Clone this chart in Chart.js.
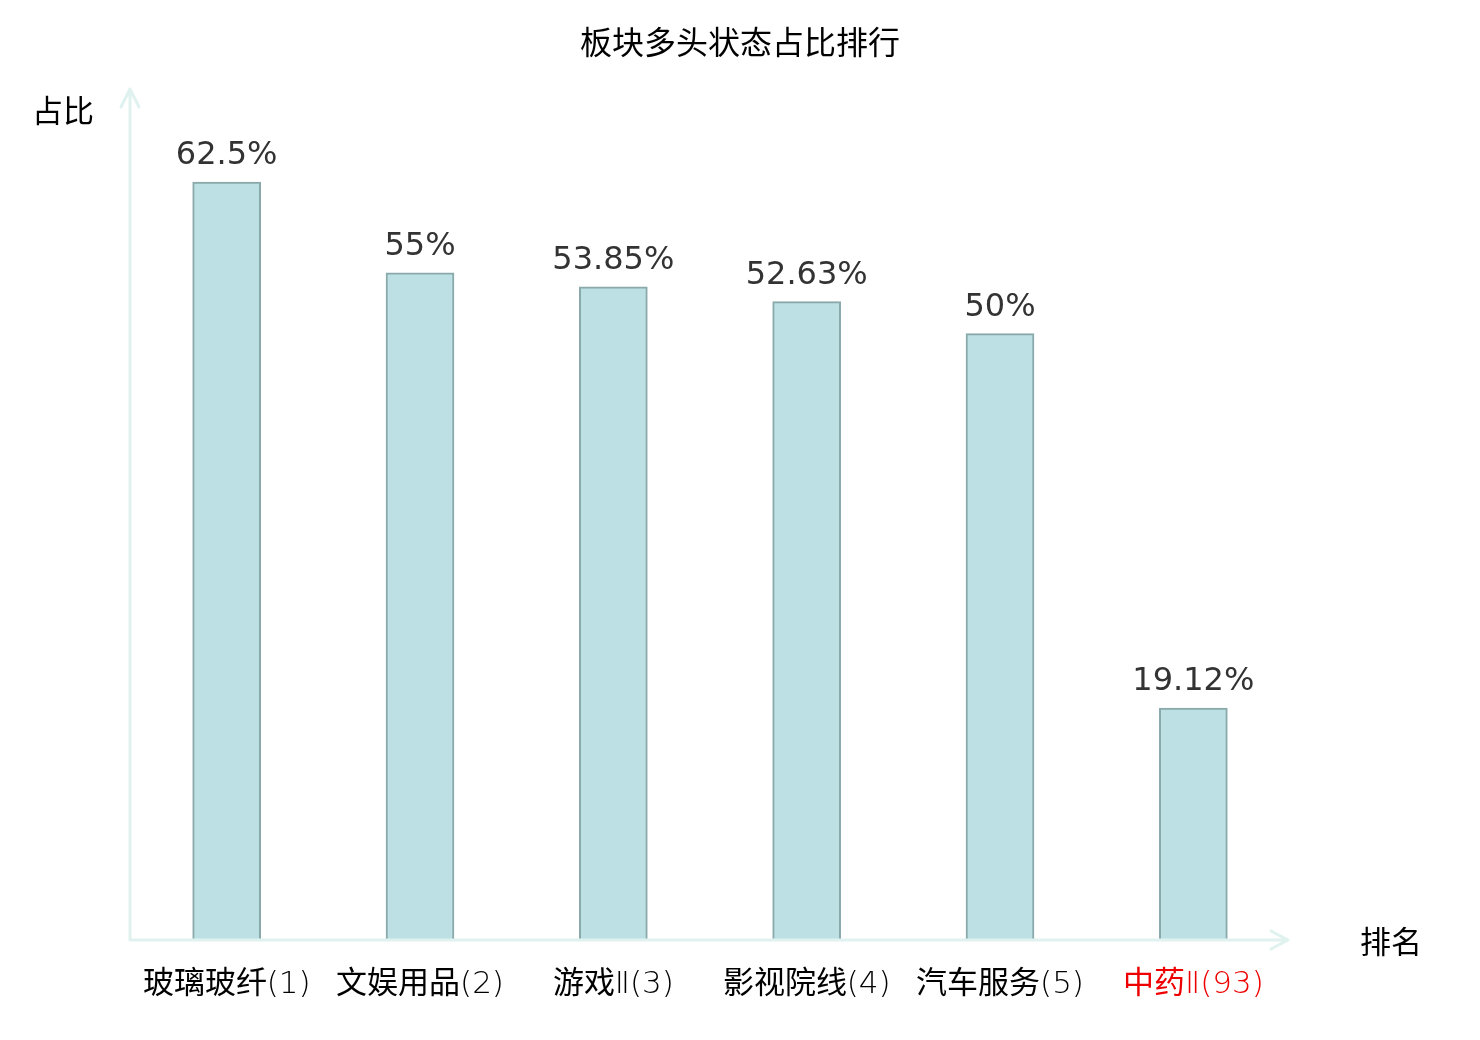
<!DOCTYPE html>
<html lang="zh">
<head>
  <meta charset="UTF-8">
  <title>板块多头状态占比排行</title>
  <script src="https://cdn.jsdelivr.net/npm/chart.js"></script>
  <style>
    html, body { margin: 0; padding: 0; background: #fff; }
    #wrap { width: 1480px; height: 1040px; }
    /* regular-weight CJK glyphs registered under a light weight, so the
       tick labels get thin latin digits but normal Chinese characters */
    @font-face {
      font-family: 'TickCJK';
      src: local('Noto Sans CJK SC'), local('Noto Sans CJK SC Regular'), local('NotoSansCJKsc-Regular');
      font-weight: 200;
    }
  </style>
</head>
<body>
  <div id="wrap"><canvas id="rank"></canvas></div>
  <script>
    const categories = ['玻璃玻纤(1)', '文娱用品(2)', '游戏Ⅱ(3)', '影视院线(4)', '汽车服务(5)', '中药Ⅱ(93)'];
    const ratios = [62.5, 55, 53.85, 52.63, 50, 19.12];
    const labelColors = ['#000', '#000', '#000', '#000', '#000', '#e00'];

    const cjk = '"Noto Sans CJK SC", "DejaVu Sans", sans-serif';
    const tickFont = '"DejaVu Sans", TickCJK, "Noto Sans CJK SC", sans-serif';
    const axisColor = '#dff2ef';

    // title, axis lines with arrow heads, axis names and value labels
    const decorations = {
      id: 'decorations',
      afterDatasetsDraw(chart) {
        const ctx = chart.ctx;
        const a = chart.chartArea;
        ctx.save();
        ctx.strokeStyle = axisColor;
        ctx.lineWidth = 3;
        ctx.lineCap = 'round';
        ctx.lineJoin = 'round';
        // y axis
        ctx.beginPath();
        ctx.moveTo(a.left, a.bottom);
        ctx.lineTo(a.left, a.top - 2);
        ctx.moveTo(a.left - 9, a.top + 16);
        ctx.lineTo(a.left, a.top - 2);
        ctx.lineTo(a.left + 9, a.top + 16);
        // x axis
        ctx.moveTo(a.left, a.bottom);
        ctx.lineTo(a.right - 2, a.bottom);
        ctx.moveTo(a.right - 19, a.bottom - 9);
        ctx.lineTo(a.right - 2, a.bottom);
        ctx.lineTo(a.right - 19, a.bottom + 9);
        ctx.stroke();

        ctx.fillStyle = '#000';
        ctx.textAlign = 'center';
        ctx.textBaseline = 'middle';
        ctx.font = '32px ' + cjk;
        ctx.fillText('板块多头状态占比排行', chart.width / 2, 42);
        // axis names
        ctx.font = '31px ' + cjk;
        ctx.fillText('占比', 63, 110);
        ctx.fillText('排名', 1391, 941);

        // value labels
        ctx.fillStyle = '#333';
        ctx.font = '32px "DejaVu Sans", sans-serif';
        ctx.textBaseline = 'alphabetic';
        chart.getDatasetMeta(0).data.forEach((bar, i) => {
          ctx.fillText(ratios[i] + '%', bar.x, bar.y - 18);
        });
        ctx.restore();
      }
    };

    function drawChart() {
      new Chart(document.getElementById('rank'), {
        type: 'bar',
        data: {
          labels: categories,
          datasets: [{
            data: ratios,
            backgroundColor: '#bce0e3',
            borderColor: '#8aa9aa',
            borderWidth: 2,
            borderSkipped: 'bottom',
            barThickness: 68
          }]
        },
        options: {
          responsive: true,
          maintainAspectRatio: false,
          animation: false,
          layout: { padding: { left: 130, right: 190, top: 91, bottom: 0 } },
          plugins: {
            legend: { display: false },
            tooltip: { enabled: false },
            title: { display: false }
          },
          scales: {
            x: {
              grid: { display: false, drawTicks: false },
              border: { display: false },
              ticks: {
                color: ctx => labelColors[ctx.index],
                font: { family: tickFont, size: 31, weight: 200 },
                padding: 26,
                maxRotation: 0,
                autoSkip: false
              },
              afterFit: s => { s.height = 100; }
            },
            y: {
              display: false,
              min: 0,
              max: 70
            }
          }
        },
        plugins: [decorations]
      });
    }

    document.fonts.load('200 31px TickCJK', '玻璃玻纤文娱用品游戏影视院线汽车服务中药')
      .then(drawChart, drawChart);
  </script>
</body>
</html>
